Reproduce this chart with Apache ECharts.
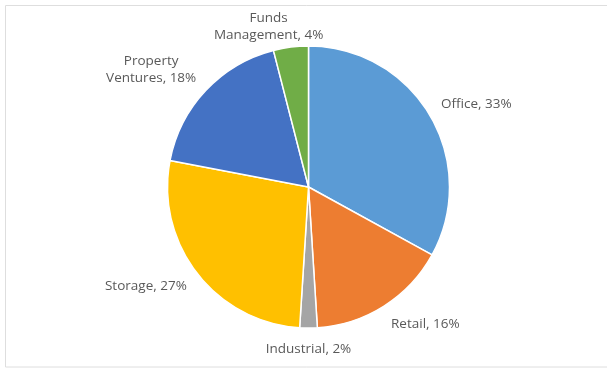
<!DOCTYPE html>
<html>
<head>
<meta charset="utf-8">
<script src="https://cdn.jsdelivr.net/npm/echarts@6/dist/echarts.min.js"></script>
<style>
  html, body { margin: 0; padding: 0; background: #ffffff; }
  #chart { width: 607px; height: 369px; }
</style>
</head>
<body>
<div id="chart"></div>
<script>
// Portfolio split by segment (percent)
const categories = ['Office', 'Retail', 'Industrial', 'Storage', 'Property\nVentures', 'Funds\nManagement'];
const shares = [33, 16, 2, 27, 18, 4];
const colors = ['#5b9bd5', '#ed7d31', '#a5a5a5', '#ffc000', '#4472c4', '#70ad47'];

const CX = 308.5, CY = 187, R = 141, GAP = 13, TOP_LIMIT = 10;

// mid-angle direction of each slice (clockwise from 12 o'clock)
const total = shares.reduce((a, b) => a + b, 0);
const dirs = [];
let acc = 0;
shares.forEach(v => {
  const a = (acc + v / 2) / total * Math.PI * 2;
  dirs.push([Math.sin(a), -Math.cos(a)]);
  acc += v;
});

const clamp = (v, lo, hi) => Math.max(lo, Math.min(hi, v));

const chart = echarts.init(document.getElementById('chart'));

chart.setOption({
  animation: false,
  backgroundColor: '#ffffff',
  graphic: [{
    type: 'rect',
    shape: { x: 5.5, y: 5.5, width: 610, height: 361.5 },
    style: { fill: 'none', stroke: '#dedede', lineWidth: 1 },
    silent: true
  }],
  series: [{
    type: 'pie',
    center: [CX, CY],
    radius: R,
    startAngle: 90,
    clockwise: true,
    data: categories.map((name, i) => ({
      name: name,
      value: shares[i],
      itemStyle: { color: colors[i] }
    })),
    itemStyle: { borderColor: '#ffffff', borderWidth: 1.5 },
    label: {
      show: true,
      position: 'outside',
      formatter: p => p.name + ', ' + p.value + '%',
      color: '#595959',
      fontFamily: 'Open Sans',
      fontSize: 13.5,
      lineHeight: 17
    },
    labelLine: { show: false },
    // place each label just beyond the rim, its box pushed outward along the slice's mid angle,
    // and kept inside the chart frame at the top
    labelLayout: p => {
      const [dx, dy] = dirs[p.dataIndex];
      const w = p.labelRect.width, h = p.labelRect.height;
      const ax = CX + dx * (R + GAP);
      const ay = CY + dy * (R + GAP);
      return {
        x: ax + clamp(dx * 3, -1, 1) * w / 2,
        y: Math.max(ay + dy * h / 2, TOP_LIMIT + h / 2),
        align: 'center',
        verticalAlign: 'middle'
      };
    }
  }]
});
</script>
</body>
</html>
